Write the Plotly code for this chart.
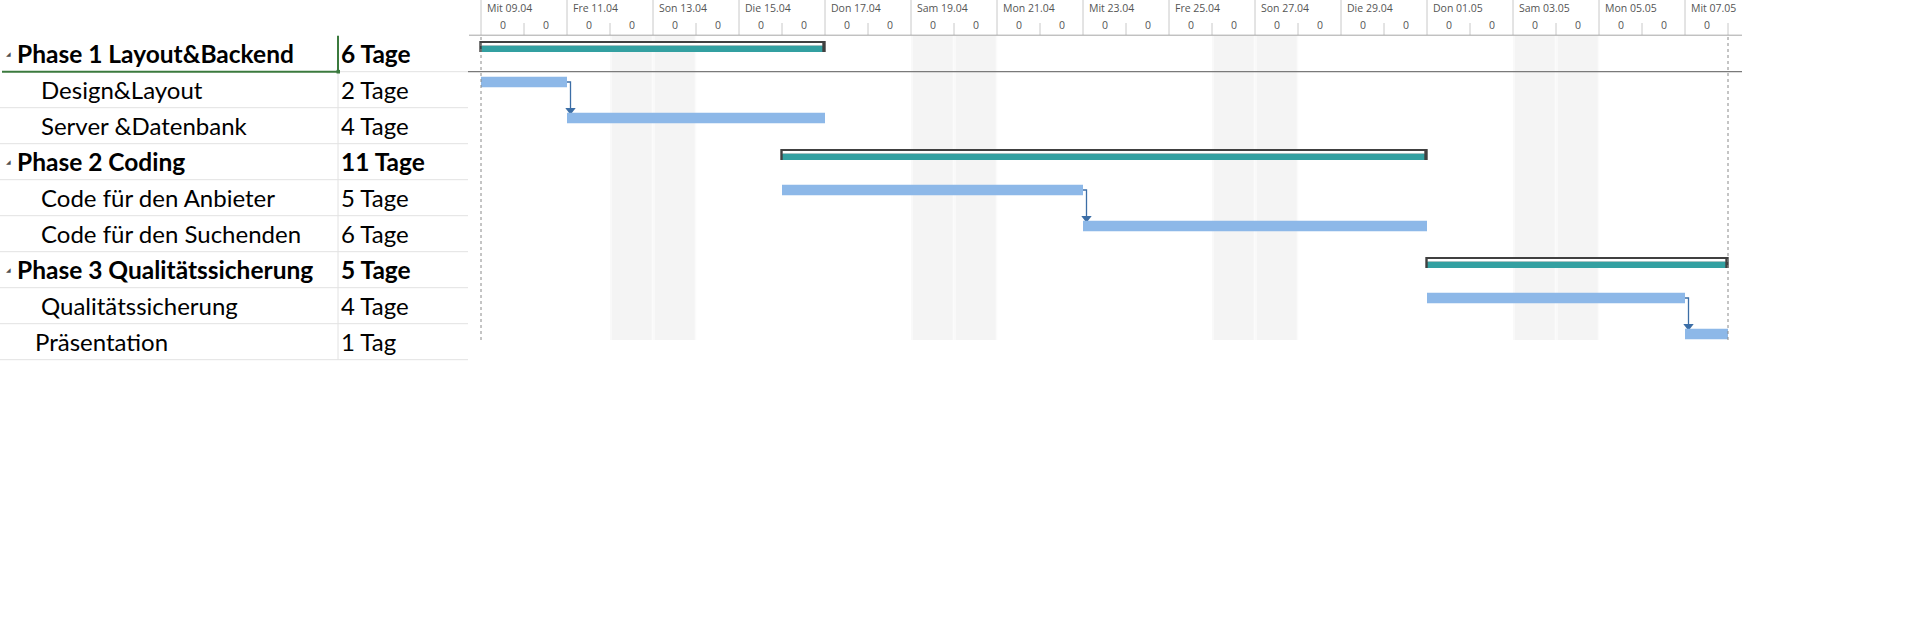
import datetime as dt
import plotly.graph_objects as go

# ---------------- data ----------------
task_names = ["Phase 1 Layout&Backend", "Design&Layout", "Server &Datenbank",
              "Phase 2 Coding", "Code für den Anbieter", "Code für den Suchenden",
              "Phase 3 Qualitätssicherung", "Qualitätssicherung", "Präsentation"]
durations = ["6 Tage", "2 Tage", "4 Tage", "11 Tage", "5 Tage", "6 Tage",
             "5 Tage", "4 Tage", "1 Tag"]
start_dates = ["2014-04-09", "2014-04-09", "2014-04-11", "2014-04-16", "2014-04-16",
               "2014-04-23", "2014-05-01", "2014-05-01", "2014-05-07"]
end_dates = ["2014-04-17", "2014-04-11", "2014-04-17", "2014-05-01", "2014-04-23",
             "2014-05-01", "2014-05-08", "2014-05-07", "2014-05-08"]
is_summary = [True, False, False, True, False, False, True, False, False]
links = [(1, 2), (4, 5), (7, 8)]
timeline_start = "2014-04-09"
header_labels = ["Mit 09.04", "Fre 11.04", "Son 13.04", "Die 15.04", "Don 17.04",
                 "Sam 19.04", "Mon 21.04", "Mit 23.04", "Fre 25.04", "Son 27.04",
                 "Die 29.04", "Don 01.05", "Sam 03.05", "Mon 05.05", "Mit 07.05"]
day_sublabel = "0"
n_days = 29

# ---------------- layout constants ----------------
W, H = 1912, 619
X0_PX = 481.0      # pixel of timeline day 0
PX_DAY = 43.0
ROW_TOP0 = 35.7
ROW_H = 36.0
name_x_px = [15, 39, 39, 15, 39, 39, 15, 39, 33]   # text indent per row (style)

def px2x(px):
    return (px - X0_PX) / PX_DAY

def px2y(py):
    return (py - ROW_TOP0) / ROW_H

def dx(px):
    return px / PX_DAY

def dy(px):
    return px / ROW_H

base = dt.date.fromisoformat(timeline_start)
starts = [(dt.date.fromisoformat(s) - base).days for s in start_dates]
ends = [(dt.date.fromisoformat(e) - base).days for e in end_dates]

TEAL = "#33a0a1"
BLUE = "#8db8e8"
FRAME = "#404040"
LINK = "#3c6ea6"
GRID = "#e2e2e2"

shapes = []
annotations = []

# weekend shading
for d in range(0, n_days + 1):
    if (base + dt.timedelta(days=d)).weekday() >= 5:
        shapes.append(dict(type="rect", xref="x", yref="y", layer="below",
                           x0=d, x1=d + 1,
                           y0=px2y(35.5), y1=px2y(340),
                           fillcolor="#f4f4f4", line=dict(width=0)))
        for xb in (d + dx(1), d + 1 - dx(0.5)):
            shapes.append(dict(type="line", xref="x", yref="y", layer="below",
                               x0=xb, x1=xb, y0=px2y(35.5), y1=px2y(340),
                               line=dict(color="#fbfbfb", width=1.5)))

# header tick lines
for d in range(0, n_days + 1):
    top = 0 if d % 2 == 0 else 23
    shapes.append(dict(type="line", xref="x", yref="y", x0=d, x1=d,
                       y0=px2y(top), y1=px2y(35), line=dict(color="#c8c8c8", width=1)))
# header bottom line
shapes.append(dict(type="line", xref="x", yref="y", x0=px2x(469), x1=px2x(1742),
                   y0=px2y(35.2), y1=px2y(35.2), line=dict(color="#a6a6a6", width=1)))
# selected row line across chart
shapes.append(dict(type="line", xref="x", yref="y", x0=px2x(468), x1=px2x(1742),
                   y0=1, y1=1, line=dict(color="#7a7a7a", width=1.3)))

# header labels
for i, lab in enumerate(header_labels):
    d = 2 * i
    annotations.append(dict(x=d + dx(3.5), y=px2y(8), xref="x", yref="y", text=lab,
                            showarrow=False, xanchor="left", yanchor="middle",
                            font=dict(family="Open Sans", size=10.5, color="#555555")))
for d in range(n_days):
    annotations.append(dict(x=d + 0.5, y=px2y(24.5), xref="x", yref="y", text=day_sublabel,
                            showarrow=False, xanchor="center", yanchor="middle",
                            font=dict(family="Open Sans", size=10.5, color="#555555")))

# table grid
nrows = len(task_names)
for r in range(nrows):
    if r == 0:
        shapes.append(dict(type="line", xref="paper", yref="y", x0=2 / W, x1=337 / W,
                           y0=1, y1=1, line=dict(color="#3b7a3e", width=2)))
        shapes.append(dict(type="line", xref="paper", yref="y", x0=339 / W, x1=468 / W,
                           y0=1, y1=1, line=dict(color=GRID, width=1)))
    else:
        shapes.append(dict(type="line", xref="paper", yref="y", x0=0, x1=468 / W,
                           y0=r + 1, y1=r + 1, line=dict(color=GRID, width=1)))
shapes.append(dict(type="line", xref="paper", yref="y", x0=338 / W, x1=338 / W,
                   y0=0, y1=nrows, line=dict(color=GRID, width=1)))
shapes.append(dict(type="line", xref="paper", yref="y", x0=338 / W, x1=338 / W,
                   y0=0, y1=1, line=dict(color="#3b7a3e", width=2)))
shapes.append(dict(type="rect", xref="paper", yref="y", x0=336.5 / W, x1=340 / W,
                   y0=1 - dy(1.8), y1=1 + dy(1.8), fillcolor="#3b7a3e", line=dict(width=0)))

# bars
for r in range(nrows):
    x0, x1 = starts[r], ends[r]
    if is_summary[r]:
        shapes.append(dict(type="rect", xref="x", yref="y", x0=x0 - dx(1.7), x1=x1 + dx(0.7),
                           y0=r + dy(5.3), y1=r + dy(16.3), fillcolor=FRAME, line=dict(width=0)))
        shapes.append(dict(type="rect", xref="x", yref="y", x0=x0 + dx(0.7), x1=x1 - dx(2.7),
                           y0=r + dy(7.3), y1=r + dy(10), fillcolor="white", line=dict(width=0)))
        shapes.append(dict(type="rect", xref="x", yref="y", x0=x0 + dx(0.7), x1=x1 - dx(2.7),
                           y0=r + dy(10), y1=r + dy(16.3), fillcolor=TEAL, line=dict(width=0)))
    else:
        shapes.append(dict(type="rect", xref="x", yref="y", x0=x0, x1=x1,
                           y0=r + dy(5), y1=r + dy(15.5), fillcolor=BLUE, line=dict(width=0)))

# project start / end dotted lines
for xd in (min(starts), max(ends)):
    shapes.append(dict(type="line", xref="x", yref="y", x0=xd, x1=xd,
                       y0=px2y(37), y1=px2y(340), layer="above",
                       line=dict(color="#8a8a8a", width=1, dash="dot")))

fig = go.Figure()

# dependency connectors
for p, s in links:
    xe = ends[p]
    xv = xe + dx(3.5)
    yc = p + dy(10.3)
    fig.add_trace(go.Scatter(x=[xe, xv, xv], y=[yc, yc, s + dy(2)], mode="lines",
                             line=dict(color=LINK, width=1.3), hoverinfo="skip",
                             showlegend=False))
    fig.add_trace(go.Scatter(x=[xv], y=[s + dy(2.6)], mode="markers",
                             marker=dict(symbol="triangle-down", size=9, color=LINK,
                                         line=dict(width=0)),
                             hoverinfo="skip", showlegend=False))

# table text
NAME_FONT = "Lato"
for r in range(nrows):
    bold = is_summary[r]
    name = f"<b>{task_names[r]}</b>" if bold else task_names[r]
    dur = f"<b>{durations[r]}</b>" if bold else durations[r]
    size = 24.5 if bold else 24
    annotations.append(dict(x=name_x_px[r] / W, y=r + 0.5, xref="paper", yref="y", text=name,
                            showarrow=False, xanchor="left", yanchor="middle",
                            font=dict(family=NAME_FONT, size=size, color="#000000")))
    annotations.append(dict(x=339 / W, y=r + 0.5, xref="paper", yref="y", text=dur,
                            showarrow=False, xanchor="left", yanchor="middle",
                            font=dict(family=NAME_FONT, size=size, color="#000000")))
    if bold:
        annotations.append(dict(x=4 / W, y=r + dy(17.5), xref="paper", yref="y", text="◢",
                                showarrow=False, xanchor="left", yanchor="middle",
                                font=dict(family="DejaVu Sans", size=6, color="#505050")))

fig.update_layout(
    width=W, height=H, margin=dict(l=0, r=0, t=0, b=0),
    paper_bgcolor="white", plot_bgcolor="white",
    xaxis=dict(range=[px2x(0), px2x(W)], visible=False, fixedrange=True),
    yaxis=dict(range=[px2y(H), px2y(0)], visible=False, fixedrange=True),
    shapes=shapes, annotations=annotations, showlegend=False,
)

fig.write_html("out.html", config={"displayModeBar": False},
               post_script="document.body.style.margin='0px';")
